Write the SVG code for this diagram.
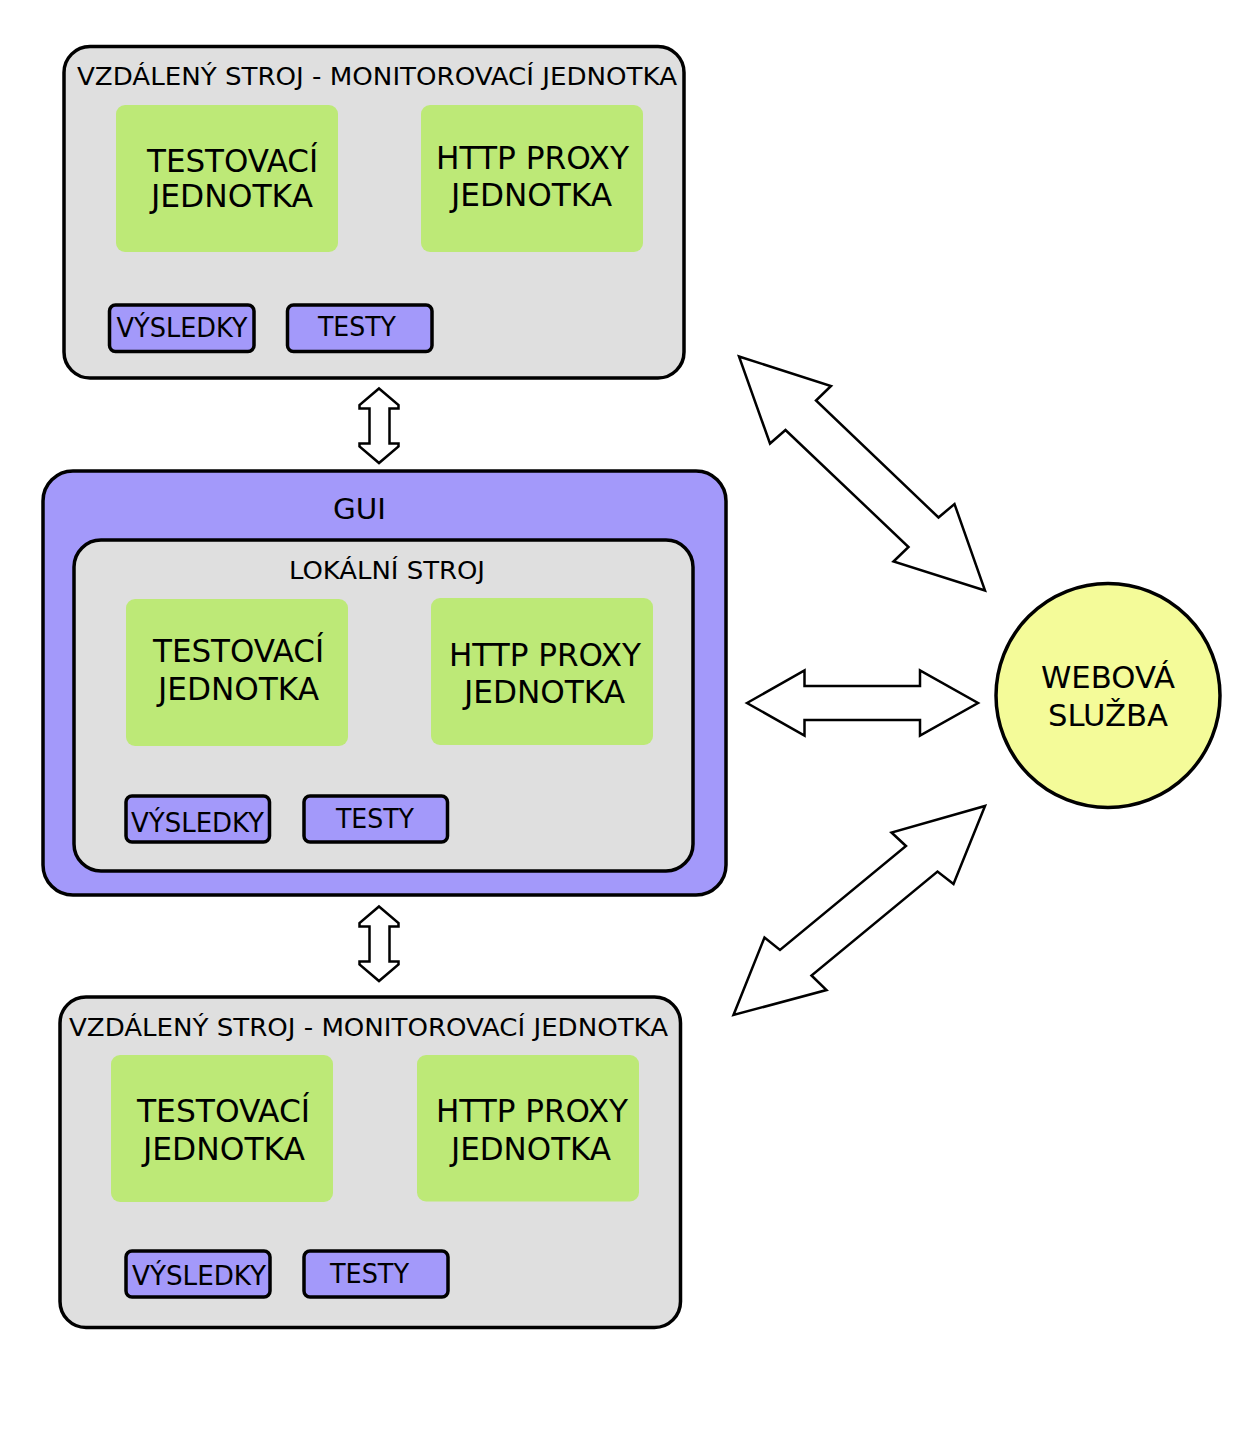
<svg xmlns="http://www.w3.org/2000/svg" width="1254" height="1434" viewBox="0 0 1254 1434">
<style>
  .machine { fill: #dfdfdf; stroke: #000; stroke-width: 3.5; }
  .gui { fill: #a399fa; stroke: #000; stroke-width: 3.5; }
  .unit { fill: #bde977; stroke: none; }
  .store { fill: #a399fa; stroke: #000; stroke-width: 3.5; }
  .svc { fill: #f4fb99; stroke: #000; stroke-width: 3.5; }
  .arrow { fill: #fff; stroke: #000; stroke-width: 2.5; stroke-linejoin: miter; }
  text { font-family: "DejaVu Sans Condensed", "DejaVu Sans", sans-serif; font-stretch: condensed; fill: #000; }
  .t24 { font-size: 24px; }
  .t25 { font-size: 25px; }
  .t26 { font-size: 26px; }
  .t29 { font-size: 29px; }
  .t32 { font-size: 32px; }
  .wide { font-family: "DejaVu Sans", sans-serif; font-stretch: normal; font-size: 30px; }
</style>

<g id="connectors">
  <path class="arrow" d="M379,388.5 L398.5,405 L398.5,408.5 L389.5,408.5 L389.5,443.5 L398.5,443.5 L398.5,446.5 L379,463 L359.5,446.5 L359.5,443.5 L369.5,443.5 L369.5,408.5 L359.5,408.5 L359.5,405 Z"/>
  <path class="arrow" d="M379,906.5 L398.5,923 L398.5,926.5 L389.5,926.5 L389.5,961.5 L398.5,961.5 L398.5,964.5 L379,981 L359.5,964.5 L359.5,961.5 L369.5,961.5 L369.5,926.5 L359.5,926.5 L359.5,923 Z"/>
  <path class="arrow" d="M739,356.5 L831,386 L816,400.5 L938.5,517.5 L954.5,504 L985,590.5 L893.5,561.5 L908.5,547 L785.5,430 L770,443.5 Z"/>
  <path class="arrow" d="M747,703 L804.5,670.5 L804.5,686 L920,686 L920,670.5 L978,703 L920,735.5 L920,720 L804.5,720 L804.5,735.5 Z"/>
  <path class="arrow" d="M985,806 L953.5,884 L937.5,871.5 L811.5,975.5 L826.5,990 L733.5,1015 L764.5,937.5 L780,950 L906,846 L891.5,832.5 Z"/>
</g>

<g id="remote-top">
  <rect class="machine" x="64" y="46.5" width="620" height="331.5" rx="26" ry="26"/>
  <text class="t24" x="77" y="85" textLength="600" lengthAdjust="spacingAndGlyphs">VZDÁLENÝ STROJ - MONITOROVACÍ JEDNOTKA</text>
</g>
<g id="remote-top-test">
  <rect class="unit" x="116" y="105" width="222" height="147" rx="9" ry="9"/>
  <text class="t32" x="147" y="172" textLength="171" lengthAdjust="spacingAndGlyphs">TESTOVACÍ</text>
  <text class="t32" x="151" y="207" textLength="162" lengthAdjust="spacingAndGlyphs">JEDNOTKA</text>
</g>
<g id="remote-top-proxy">
  <rect class="unit" x="421" y="105" width="222" height="147" rx="9" ry="9"/>
  <text class="t32" x="436" y="169" textLength="193" lengthAdjust="spacingAndGlyphs">HTTP PROXY</text>
  <text class="t32" x="451" y="206" textLength="161" lengthAdjust="spacingAndGlyphs">JEDNOTKA</text>
</g>
<g id="remote-top-results">
  <rect class="store" x="109.5" y="305" width="144.5" height="46.5" rx="6" ry="6"/>
  <text class="t26" x="116.5" y="337" textLength="131" lengthAdjust="spacingAndGlyphs">VÝSLEDKY</text>
</g>
<g id="remote-top-tests">
  <rect class="store" x="287.5" y="305" width="144.5" height="46.5" rx="6" ry="6"/>
  <text class="t26" x="318" y="336" textLength="78" lengthAdjust="spacingAndGlyphs">TESTY</text>
</g>

<g id="gui">
  <rect class="gui" x="43" y="471" width="683" height="424" rx="30" ry="30"/>
  <text class="t29" x="333" y="519" textLength="53" lengthAdjust="spacingAndGlyphs">GUI</text>
</g>
<g id="local">
  <rect class="machine" x="74" y="540" width="619" height="331" rx="27" ry="27"/>
  <text class="t25" x="289" y="579" textLength="196" lengthAdjust="spacingAndGlyphs">LOKÁLNÍ STROJ</text>
</g>
<g id="local-test">
  <rect class="unit" x="126" y="599" width="222" height="147" rx="9" ry="9"/>
  <text class="t32" x="153" y="662" textLength="171" lengthAdjust="spacingAndGlyphs">TESTOVACÍ</text>
  <text class="t32" x="158" y="700" textLength="161" lengthAdjust="spacingAndGlyphs">JEDNOTKA</text>
</g>
<g id="local-proxy">
  <rect class="unit" x="431" y="598" width="222" height="147" rx="9" ry="9"/>
  <text class="t32" x="449" y="666" textLength="192" lengthAdjust="spacingAndGlyphs">HTTP PROXY</text>
  <text class="t32" x="464" y="703" textLength="161" lengthAdjust="spacingAndGlyphs">JEDNOTKA</text>
</g>
<g id="local-results">
  <rect class="store" x="126" y="796" width="143.5" height="46" rx="6" ry="6"/>
  <text class="t26" x="131" y="832" textLength="133" lengthAdjust="spacingAndGlyphs">VÝSLEDKY</text>
</g>
<g id="local-tests">
  <rect class="store" x="304" y="796" width="143.5" height="46" rx="6" ry="6"/>
  <text class="t26" x="336" y="828" textLength="78" lengthAdjust="spacingAndGlyphs">TESTY</text>
</g>

<g id="remote-bottom">
  <rect class="machine" x="60" y="997" width="620.5" height="330.5" rx="26" ry="26"/>
  <text class="t24" x="69" y="1036" textLength="599" lengthAdjust="spacingAndGlyphs">VZDÁLENÝ STROJ - MONITOROVACÍ JEDNOTKA</text>
</g>
<g id="remote-bottom-test">
  <rect class="unit" x="111" y="1055" width="222" height="147" rx="9" ry="9"/>
  <text class="t32" x="137" y="1122" textLength="173" lengthAdjust="spacingAndGlyphs">TESTOVACÍ</text>
  <text class="t32" x="143" y="1160" textLength="162" lengthAdjust="spacingAndGlyphs">JEDNOTKA</text>
</g>
<g id="remote-bottom-proxy">
  <rect class="unit" x="417" y="1055" width="222" height="146.5" rx="9" ry="9"/>
  <text class="t32" x="436" y="1122" textLength="192" lengthAdjust="spacingAndGlyphs">HTTP PROXY</text>
  <text class="t32" x="451" y="1160" textLength="160" lengthAdjust="spacingAndGlyphs">JEDNOTKA</text>
</g>
<g id="remote-bottom-results">
  <rect class="store" x="126" y="1251" width="144" height="46" rx="6" ry="6"/>
  <text class="t26" x="132" y="1285" textLength="134" lengthAdjust="spacingAndGlyphs">VÝSLEDKY</text>
</g>
<g id="remote-bottom-tests">
  <rect class="store" x="304" y="1251" width="144" height="46" rx="6" ry="6"/>
  <text class="t26" x="330" y="1283" textLength="79" lengthAdjust="spacingAndGlyphs">TESTY</text>
</g>

<g id="web-service">
  <circle class="svc" cx="1108" cy="695.5" r="112"/>
  <text class="wide" x="1108" y="688" text-anchor="middle" textLength="134" lengthAdjust="spacingAndGlyphs">WEBOVÁ</text>
  <text class="wide" x="1108" y="726" text-anchor="middle" textLength="120" lengthAdjust="spacingAndGlyphs">SLUŽBA</text>
</g>
</svg>
